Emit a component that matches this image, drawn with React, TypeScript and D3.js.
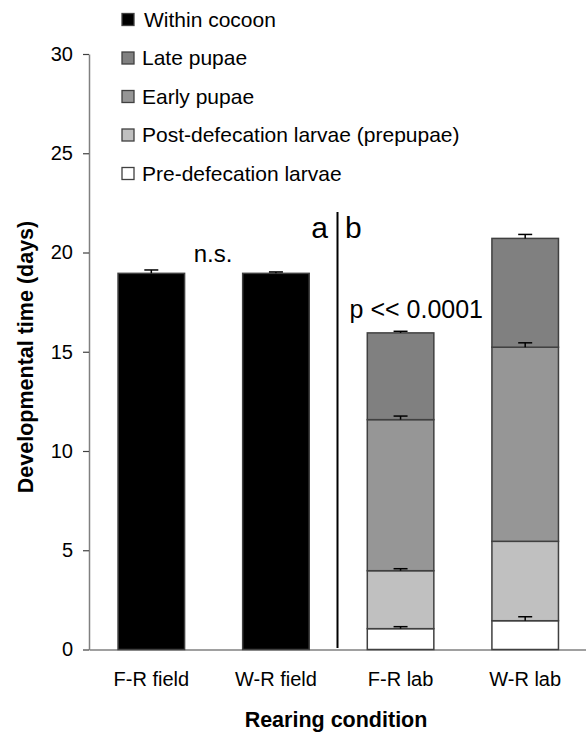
// stacked developmental-time bars, drawn with d3 into an svg ref
import * as d3 from "d3";
import { useEffect, useRef } from "react";

const categories = ["F-R field", "W-R field", "F-R lab", "W-R lab"];

// stage durations (days), bottom to top of each stack
const preDefecation = [0, 0, 1.05, 1.45];
const postDefecation = [0, 0, 2.92, 4.0];
const earlyPupae = [0, 0, 7.61, 9.78];
const latePupae = [0, 0, 4.37, 5.48];
const withinCocoon = [18.95, 18.95, 0, 0];

// upward error (days) at the top of each stage
const preErr = [0, 0, 0.1, 0.2];
const postErr = [0, 0, 0.1, 0];
const earlyErr = [0, 0, 0.18, 0.22];
const lateErr = [0, 0, 0.08, 0.2];
const cocoonErr = [0.17, 0.07, 0, 0];

const yTicks = [0, 5, 10, 15, 20, 25, 30];

const legendLabels = [
  "Within cocoon",
  "Late pupae",
  "Early pupae",
  "Post-defecation larvae (prepupae)",
  "Pre-defecation larvae",
];

const FONT = "'Liberation Sans', Arial, sans-serif";

export default function App() {
  const svgRef = useRef<SVGSVGElement>(null);

  useEffect(() => {
    const svg = d3.select(svgRef.current);
    svg.selectAll("*").remove();

    const left = 89;
    const right = 587.5;
    const bottom = 649.5;
    const top = 54;

    const keys = ["pre", "post", "early", "late", "cocoon"];
    const colors: Record<string, string> = {
      pre: "#ffffff",
      post: "#c0c0c0",
      early: "#969696",
      late: "#808080",
      cocoon: "#000000",
    };
    const series: Record<string, number[]> = {
      pre: preDefecation,
      post: postDefecation,
      early: earlyPupae,
      late: latePupae,
      cocoon: withinCocoon,
    };
    const errs: Record<string, number[]> = {
      pre: preErr,
      post: postErr,
      early: earlyErr,
      late: lateErr,
      cocoon: cocoonErr,
    };

    const rows = categories.map((c, i) => {
      const r: any = { cat: c };
      keys.forEach((k) => (r[k] = series[k][i]));
      return r;
    });
    const stacked = d3.stack<any>().keys(keys)(rows);

    const x = d3
      .scaleBand()
      .domain(categories)
      .range([left, right])
      .paddingInner(0.466)
      .paddingOuter(0.233);
    const y = d3.scaleLinear().domain([0, 30]).range([bottom, top]);

    // y axis
    const yAxis = svg
      .append("g")
      .attr("transform", `translate(${left},0)`)
      .call(d3.axisLeft(y).tickValues(yTicks).tickSize(6).tickSizeOuter(0).tickPadding(10));
    yAxis.select(".domain").attr("stroke", "#808080").attr("stroke-width", 1.5);
    yAxis.selectAll(".tick line").attr("stroke", "#404040").attr("stroke-width", 1.2);
    yAxis
      .selectAll(".tick text")
      .attr("fill", "#000")
      .style("font-family", FONT)
      .style("font-size", "20px");

    // x axis
    const xAxis = svg
      .append("g")
      .attr("transform", `translate(0,${bottom})`)
      .call(d3.axisBottom(x).tickSize(0).tickSizeOuter(0).tickPadding(22));
    xAxis.select(".domain").attr("stroke", "#808080").attr("stroke-width", 1.5);
    xAxis
      .selectAll(".tick text")
      .attr("fill", "#000")
      .style("font-family", FONT)
      .style("font-size", "20px");

    // stacked bars
    stacked.forEach((s) => {
      svg
        .append("g")
        .selectAll("rect")
        .data(s.filter((d) => d[1] - d[0] > 0))
        .enter()
        .append("rect")
        .attr("x", (d) => x(d.data.cat)!)
        .attr("width", x.bandwidth())
        .attr("y", (d) => y(d[1]))
        .attr("height", (d) => y(d[0]) - y(d[1]))
        .attr("fill", colors[s.key])
        .attr("stroke", "#404040")
        .attr("stroke-width", 1.5);
    });

    // error bars (upper half only)
    const cap = 7;
    stacked.forEach((s) => {
      s.forEach((d, i) => {
        const e = errs[s.key][i];
        if (d[1] - d[0] <= 0 || e <= 0) return;
        const cx = x(d.data.cat)! + x.bandwidth() / 2;
        svg
          .append("line")
          .attr("x1", cx)
          .attr("x2", cx)
          .attr("y1", y(d[1]))
          .attr("y2", y(d[1] + e))
          .attr("stroke", "#000")
          .attr("stroke-width", 1.5);
        svg
          .append("line")
          .attr("x1", cx - cap)
          .attr("x2", cx + cap)
          .attr("y1", y(d[1] + e))
          .attr("y2", y(d[1] + e))
          .attr("stroke", "#000")
          .attr("stroke-width", 1.5);
      });
    });

    // divider between field and lab
    svg
      .append("line")
      .attr("x1", 337.5)
      .attr("x2", 337.5)
      .attr("y1", 212)
      .attr("y2", 648)
      .attr("stroke", "#000")
      .attr("stroke-width", 2);

    const txt = (s: string, tx: number, ty: number, size: number, anchor = "start", weight = "normal") =>
      svg
        .append("text")
        .attr("x", tx)
        .attr("y", ty)
        .attr("text-anchor", anchor)
        .style("font-family", FONT)
        .style("font-size", size + "px")
        .style("font-weight", weight)
        .attr("fill", "#000")
        .text(s);

    txt("a", 328, 238, 30, "end");
    txt("b", 345, 238, 30, "start");
    txt("n.s.", 213, 262, 24, "middle");
    txt("p << 0.0001", 483, 318, 25, "end");

    // axis titles
    txt("Rearing condition", 336, 727, 21.5, "middle", "bold");
    txt("Developmental time (days)", 0, 0, 21.5, "middle", "bold").attr(
      "transform",
      "translate(33,357) rotate(-90)"
    );

    // legend
    const legendColors = [colors.cocoon, colors.late, colors.early, colors.post, colors.pre];
    legendLabels.forEach((lab, i) => {
      const cy = 19.5 + i * 38.5;
      svg
        .append("rect")
        .attr("x", 122)
        .attr("y", cy - 6)
        .attr("width", 12)
        .attr("height", 12)
        .attr("fill", legendColors[i])
        .attr("stroke", "#404040")
        .attr("stroke-width", 1.3);
      txt(lab, i === 0 ? 144 : 142, cy + 7.2, 21);
    });
  }, []);

  return (
    <svg
      ref={svgRef}
      width={586}
      height={732}
      style={{ position: "absolute", left: 0, top: 0, background: "#fff" }}
    />
  );
}
